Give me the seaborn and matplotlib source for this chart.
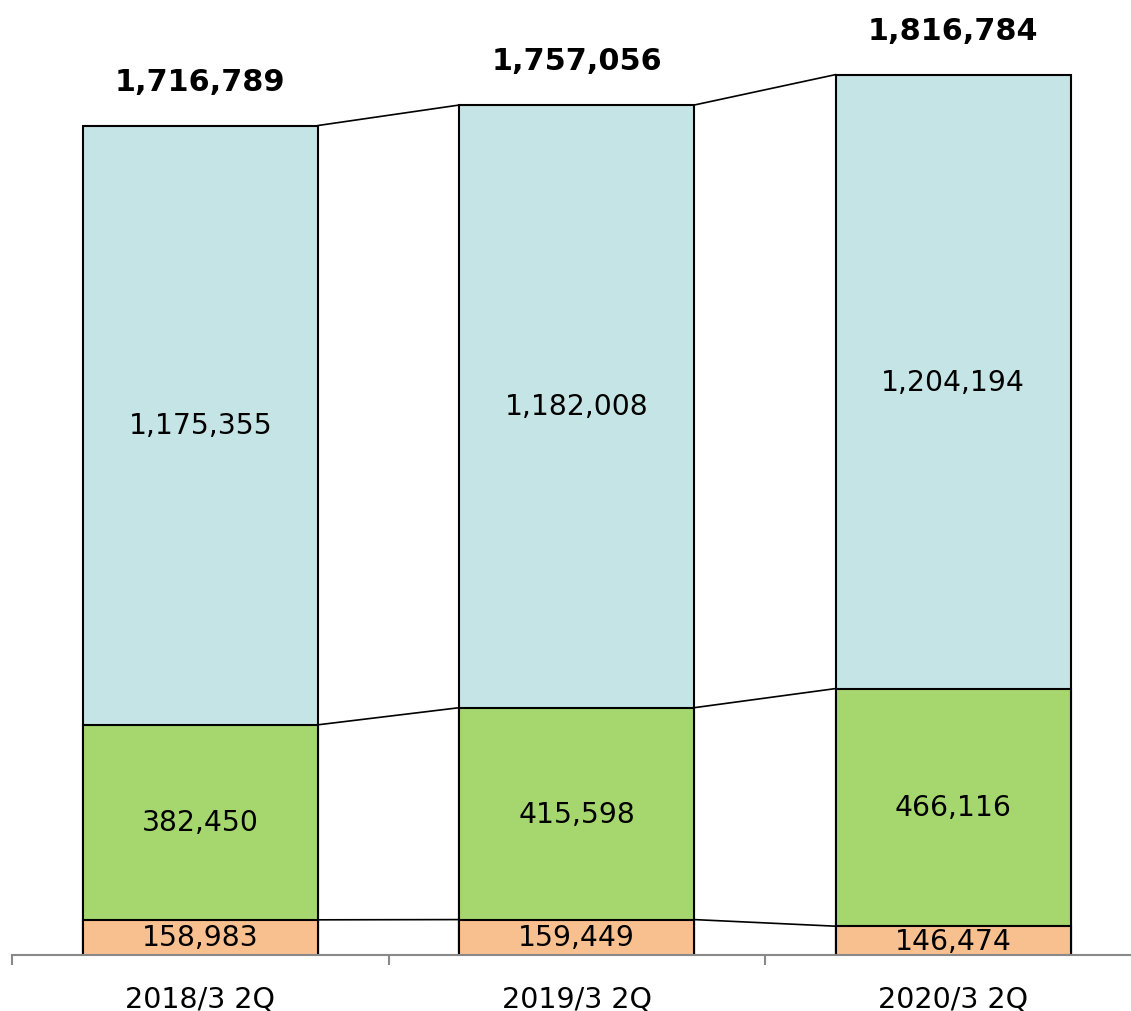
import matplotlib
matplotlib.use("Agg")
import matplotlib.pyplot as plt
import seaborn as sns
import pandas as pd
import numpy as np

categories = ["2018/3 2Q", "2019/3 2Q", "2020/3 2Q"]
bottom_vals = [158983, 159449, 146474]
middle_vals = [382450, 415598, 466116]
top_vals = [1175355, 1182008, 1204194]
totals = [1716789, 1757056, 1816784]

c_top = "#C5E4E5"
c_mid = "#A5D76E"
c_bot = "#F8BF8F"

sns.set_theme(style="white")
plt.rcParams['font.family'] = ['DejaVu Sans']

df = pd.DataFrame({
    "cat": categories,
    "bot": bottom_vals,
    "mid": middle_vals,
    "top": top_vals,
})
df["cum_bot"] = df["bot"]
df["cum_mid"] = df["bot"] + df["mid"]
df["cum_top"] = df["bot"] + df["mid"] + df["top"]

fig = plt.figure(figsize=(11.31, 10.12), dpi=100)
ax = fig.add_axes([12 / 1131, 56 / 1012, 3 * 376.5 / 1131, 956 / 1012])

bw = 0.624
ymin, ymax = 90000, 1965000
for col, colr in [("cum_top", c_top), ("cum_mid", c_mid), ("cum_bot", c_bot)]:
    sns.barplot(data=df, x="cat", y=col, color=colr, width=bw, ax=ax,
                edgecolor="black", linewidth=1.5, saturation=1, errorbar=None)

ax.set_ylim(ymin, ymax)
ax.set_xlim(-0.5, 2.5)

# connector lines
for col in ["cum_bot", "cum_mid", "cum_top"]:
    vals = df[col].values
    for i in range(len(vals) - 1):
        ax.plot([i + bw / 2, i + 1 - bw / 2], [vals[i], vals[i + 1]],
                color="black", lw=1.2, zorder=1)

# segment labels
for i in range(len(categories)):
    b = df["bot"][i]; m = df["mid"][i]; t = df["top"][i]
    ax.text(i, (ymin + b) / 2, f"{b:,}", ha="center", va="center", fontsize=20.3, color="black")
    ax.text(i, b + m / 2, f"{m:,}", ha="center", va="center", fontsize=20.3, color="black")
    ax.text(i, b + m + t / 2, f"{t:,}", ha="center", va="center", fontsize=20.3, color="black")
    ax.annotate(f"{totals[i]:,}", xy=(i, df["cum_top"][i]), xytext=(0, 32),
                textcoords="offset points", ha="center", va="center",
                fontsize=21.8, fontweight="bold", color="black")

for s in ["top", "right", "left"]:
    ax.spines[s].set_visible(False)
ax.spines["bottom"].set_color("#898989")
ax.spines["bottom"].set_linewidth(1.5)
ax.set_yticks([])
ax.set_xlabel("")
ax.set_ylabel("")
ax.tick_params(axis="x", which="major", bottom=True, length=0, pad=21, labelsize=20.5, labelcolor="black")
ax.set_xticks([-0.5, 0.5, 1.5, 2.5], minor=True)
ax.tick_params(axis="x", which="minor", bottom=True, length=7, width=1.5, color="#898989", direction="out")

fig.savefig("out.png", dpi=100)
